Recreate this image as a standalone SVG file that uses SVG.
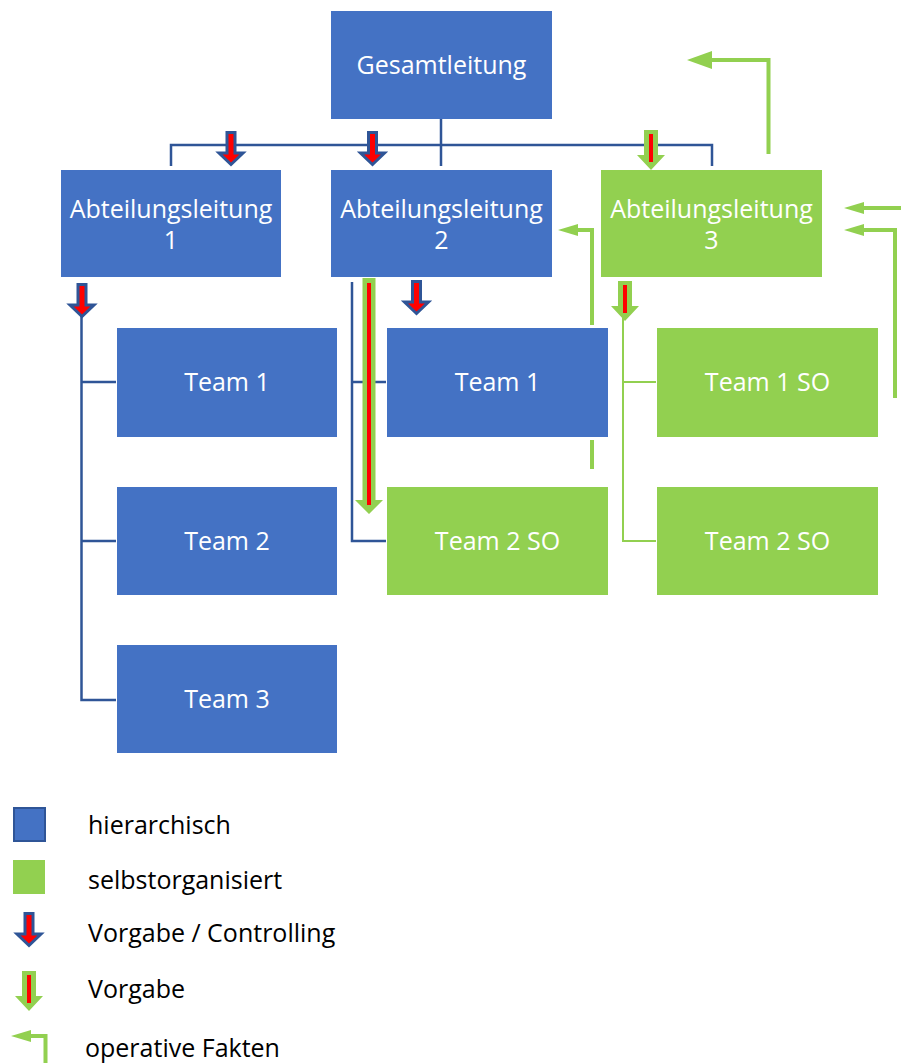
<svg xmlns="http://www.w3.org/2000/svg" xmlns:xlink="http://www.w3.org/1999/xlink" width="901" height="1063" viewBox="0 0 901 1063">
  <style>
    .hier { fill: #4472C4; }
    .self { fill: #92D050; }
    .lbl { font-family: "Open Sans", "Liberation Sans", sans-serif; font-size: 25px; fill: #FFFFFF; text-anchor: middle; }
    .leg { font-family: "Open Sans", "Liberation Sans", sans-serif; font-size: 25px; fill: #000000; }
    .line-h { fill: none; stroke: #2F5597; stroke-width: 2.5; }
    .line-s { fill: none; stroke: #92D050; stroke-width: 2; }
    .ops { fill: none; stroke: #92D050; stroke-width: 4; stroke-linejoin: miter; }
    .ctrl { fill: #FF0000; stroke: #2F5597; stroke-width: 3; stroke-linejoin: miter; }
  </style>
  <defs>
    <!-- Vorgabe / Controlling: red block arrow with dark blue outline -->
    <path id="ctrlArrow" class="ctrl" d="M-4,1.5 H4 V22 H12 L0,33.5 L-12,22 H-4 Z"/>
    <!-- Vorgabe: green block arrow with red core -->
    <g id="soArrow">
      <path class="self" d="M-7,0 H7 V25 H14 L0,40 L-14,25 H-7 Z"/>
      <rect x="-2" y="4" width="4" height="28" fill="#FF0000"/>
    </g>
    <marker id="headL" markerUnits="userSpaceOnUse" markerWidth="25" markerHeight="18" refX="1" refY="9" orient="auto" viewBox="0 0 25 18">
      <path d="M0,0 L25,9 L0,18 Z" fill="#92D050"/>
    </marker>
    <marker id="headM" markerUnits="userSpaceOnUse" markerWidth="20" markerHeight="12" refX="1" refY="6" orient="auto" viewBox="0 0 20 12">
      <path d="M0,0 L20,6 L0,12 Z" fill="#92D050"/>
    </marker>
  </defs>

  <rect width="901" height="1063" fill="#FFFFFF"/>

  <g id="connectors">
    <!-- hierarchy lines -->
    <path class="line-h" d="M171,166 V145 H712 V166 M441,119 V166"/>
    <path class="line-h" d="M81.5,300 V700 H116 M81.5,382 H116 M81.5,541 H116"/>
    <path class="line-h" d="M352,282 V541 H386 M352,382 H386"/>
    <path class="line-s" d="M623,310 V541 H656 M623,382 H656"/>

    <!-- operative Fakten (reported upwards) -->
    <path class="ops" d="M768.5,154 V60 H711" marker-end="url(#headL)"/>
    <path class="ops" d="M905,208 H863" marker-end="url(#headM)"/>
    <path class="ops" d="M895,398 V230 H863" marker-end="url(#headM)"/>
    <path class="ops" d="M592,469 V440 M592,325 V230 H577" marker-end="url(#headM)"/>

    <!-- Vorgabe / Controlling -->
    <use xlink:href="#ctrlArrow" transform="translate(231,131)"/>
    <use xlink:href="#ctrlArrow" transform="translate(372.5,131)"/>
    <use xlink:href="#ctrlArrow" transform="translate(82,283)"/>
    <use xlink:href="#ctrlArrow" transform="translate(416.5,280)"/>

    <!-- Vorgabe -->
    <use xlink:href="#soArrow" transform="translate(651,130)"/>
    <use xlink:href="#soArrow" transform="translate(625,281)"/>
    <g id="longVorgabe">
      <path class="self" d="M362.5,278 H375.5 V500 H383 L369,514 L355,500 H362.5 Z"/>
      <rect x="367" y="283" width="4" height="222" fill="#FF0000"/>
    </g>
  </g>

  <g id="gesamtleitung">
    <rect class="hier" x="331" y="11" width="221" height="108"/>
    <text class="lbl" x="441.5" y="74">Gesamtleitung</text>
  </g>

  <g id="abteilung1">
    <rect class="hier" x="61" y="170" width="220" height="107"/>
    <text class="lbl" x="171" y="218">Abteilungsleitung</text>
    <text class="lbl" x="171" y="249">1</text>
  </g>
  <g id="abteilung2">
    <rect class="hier" x="331" y="170" width="221" height="107"/>
    <text class="lbl" x="441.5" y="218">Abteilungsleitung</text>
    <text class="lbl" x="441.5" y="249">2</text>
  </g>
  <g id="abteilung3">
    <rect class="self" x="601" y="170" width="221" height="107"/>
    <text class="lbl" x="711.5" y="218">Abteilungsleitung</text>
    <text class="lbl" x="711.5" y="249">3</text>
  </g>

  <g id="a1-team1">
    <rect class="hier" x="117" y="328" width="220" height="109"/>
    <text class="lbl" x="227" y="391">Team 1</text>
  </g>
  <g id="a1-team2">
    <rect class="hier" x="117" y="487" width="220" height="108"/>
    <text class="lbl" x="227" y="550">Team 2</text>
  </g>
  <g id="a1-team3">
    <rect class="hier" x="117" y="645" width="220" height="108"/>
    <text class="lbl" x="227" y="708">Team 3</text>
  </g>

  <g id="a2-team1">
    <rect class="hier" x="387" y="328" width="221" height="109"/>
    <text class="lbl" x="497.5" y="391">Team 1</text>
  </g>
  <g id="a2-team2so">
    <rect class="self" x="387" y="487" width="221" height="108"/>
    <text class="lbl" x="497.5" y="550">Team 2 SO</text>
  </g>

  <g id="a3-team1so">
    <rect class="self" x="657" y="328" width="221" height="109"/>
    <text class="lbl" x="767.5" y="391">Team 1 SO</text>
  </g>
  <g id="a3-team2so">
    <rect class="self" x="657" y="487" width="221" height="108"/>
    <text class="lbl" x="767.5" y="550">Team 2 SO</text>
  </g>

  <g id="legend">
    <rect class="hier" x="14" y="808" width="31" height="33" stroke="#2F5597" stroke-width="2"/>
    <text class="leg" x="88" y="834">hierarchisch</text>
    <rect class="self" x="13" y="860" width="32" height="34"/>
    <text class="leg" x="88" y="889">selbstorganisiert</text>
    <use xlink:href="#ctrlArrow" transform="translate(29,912)"/>
    <text class="leg" x="88" y="942">Vorgabe / Controlling</text>
    <use xlink:href="#soArrow" transform="translate(29,971)"/>
    <text class="leg" x="88" y="998">Vorgabe</text>
    <path class="ops" d="M45.5,1066 V1036 H30" marker-end="url(#headM)"/>
    <text class="leg" x="85" y="1057">operative Fakten</text>
  </g>
</svg>
